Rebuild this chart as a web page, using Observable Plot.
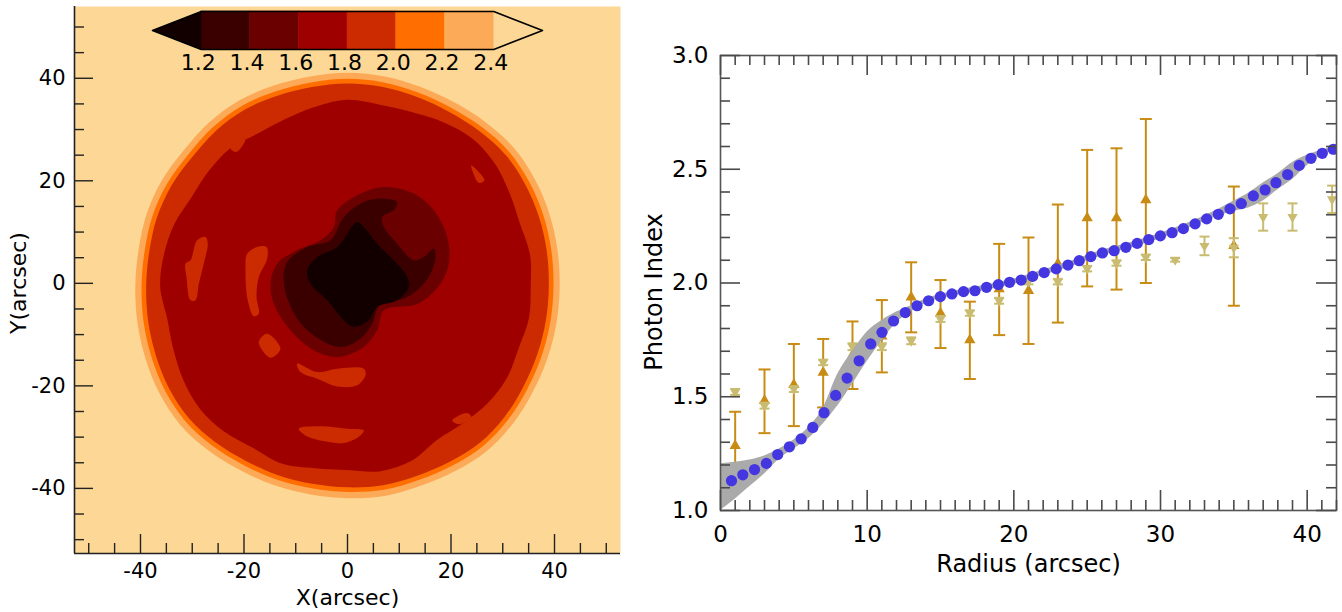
<!DOCTYPE html>
<html>
<head>
<meta charset="utf-8">
<script src="https://cdn.jsdelivr.net/npm/d3@7"></script>
<script src="https://cdn.jsdelivr.net/npm/@observablehq/plot@0.6"></script>
<style>
  body { margin: 0; background: #ffffff; }
  #wrap { position: relative; width: 1342px; height: 612px; font-family: "DejaVu Sans", sans-serif; color: #000; }
  #wrap svg { position: absolute; top: 0; }
</style>
</head>
<body>
<div id="wrap"></div>
<script>
// ================= DATA =================
// ---- left panel: photon-index map ----
const mapXDomain = [-52.75, 52.75];
const mapYDomain = [-52.7, 54.0];
const mapMajorTicks = [-40, -20, 0, 20, 40];
const mapMinorTicks = [-50, -45, -35, -30, -25, -15, -10, -5, 5, 10, 15, 25, 30, 35, 45, 50];

// colour-bar levels and colours
const levelEdges = [1.2, 1.4, 1.6, 1.8, 2.0, 2.2, 2.4];
const levelColors = ["#3a0000", "#6b0000", "#9e0000", "#cc2a00", "#ff6e00", "#fdaa58"];
const underColor = "#120000";
const overColor = "#fdd795";
const cbDomain = [1.0, 2.6];

// disk contours (polar: degrees, radius in arcsec) around the disk centre
const diskCenter = [0, -0.6];
const ringAngles = [0,10,20,30,40,50,60,70,80,90,100,110,120,130,140,150,160,170,180,190,200,210,220,230,240,250,260,270,280,290,300,310,320,330,340,350];
const r24 = [41.0,41.2,41.5,41.8,42.0,41.7,41.4,41.4,41.6,41.7,41.6,41.7,41.9,41.7,41.3,41.4,41.3,41.0,41.0,41.2,41.5,41.9,42.1,41.8,41.4,41.3,41.2,41.3,41.5,41.4,41.6,41.9,41.7,41.3,41.1,41.0];
const r22 = [39.8,40.0,40.3,40.6,40.8,40.5,40.2,40.2,40.4,40.5,40.4,40.5,40.7,40.5,40.1,40.2,40.1,39.8,39.8,40.0,40.3,40.7,40.9,40.6,40.2,40.1,40.0,40.1,40.3,40.2,40.4,40.7,40.5,40.1,39.9,39.8];
const r20 = [38.9,39.1,39.4,39.7,39.9,39.6,39.3,39.3,39.5,39.6,39.5,39.6,39.8,39.6,39.2,39.3,39.2,38.9,38.9,39.1,39.4,39.8,40.0,39.7,39.3,39.2,39.1,39.2,39.4,39.3,39.5,39.8,39.6,39.2,39.0,38.9];
const r18 = [35.4,35.8,35.5,36.2,37.2,37.6,37.0,36.2,36.0,36.4,35.6,34.8,34.5,35.2,35.0,34.8,35.6,36.0,36.2,35.4,35.8,36.6,37.2,37.0,36.4,36.8,36.0,35.8,36.6,36.2,34.6,34.8,35.4,35.6,35.2,35.6];

// central low-index region (1.6, 1.4, 1.2 contours), [x, y] arcsec
const contour16 = [[-1.99,14.24],[3.16,17.82],[7.67,18.80],[12.82,17.50],[16.68,14.24],[19.26,9.04],[19.58,3.84],[17.97,-0.07],[14.74,-3.32],[12.82,-4.29],[7.02,-5.27],[5.73,-9.17],[3.16,-12.42],[-1.99,-14.38],[-6.51,-13.07],[-11.01,-9.17],[-14.24,-3.97],[-14.88,-0.07],[-13.59,3.84],[-9.73,6.44],[-5.22,8.39],[-2.64,10.99]];
const contour14 = [[-12.30,-0.07],[-11.66,4.16],[-7.79,7.09],[-3.29,8.39],[-0.71,12.94],[3.16,15.87],[7.02,16.52],[9.60,15.87],[8.95,14.24],[6.70,12.94],[7.02,10.99],[9.60,7.74],[12.82,4.49],[14.74,5.14],[16.68,6.77],[17.00,5.14],[16.04,1.89],[13.47,-1.37],[10.88,-2.99],[6.38,-3.97],[4.77,-7.87],[2.51,-10.80],[-1.35,-12.42],[-5.54,-10.80],[-9.73,-6.89]];
const contour12 = [[-7.79,2.54],[-5.86,5.14],[-1.99,7.09],[1.87,11.96],[3.16,10.99],[5.73,7.74],[8.95,4.49],[11.54,1.24],[11.85,-0.72],[9.60,-3.32],[5.73,-4.62],[4.12,-7.22],[1.22,-8.52],[-0.71,-7.22],[-3.92,-3.32],[-7.15,-0.07]];

// isolated 1.8-2.0 patches inside the disk
const patchA = [[-30.34,4.49],[-29.05,8.39],[-27.44,9.04],[-27.0,7.74],[-27.77,3.84],[-28.73,-0.07],[-29.37,-3.32],[-30.34,-3.32],[-31.11,1.24],[-31.30,3.84]];
const patchB = [[-19.38,5.79],[-17.45,7.09],[-15.65,7.09],[-15.52,4.81],[-17.14,1.24],[-17.58,-2.67],[-17.14,-5.92],[-18.11,-6.44],[-19.27,-3.32],[-19.71,2.54]];
const patchC = [[-17.14,-11.45],[-15.52,-9.82],[-12.95,-12.75],[-14.88,-14.50]];
const patchD = [[-9.73,-15.67],[-5.86,-17.30],[-1.99,-16.65],[3.16,-16.65],[3.48,-17.95],[1.87,-19.90],[-1.99,-20.10],[-5.86,-18.60],[-9.08,-17.30]];
const patchE = [[-9.41,-28.35],[-5.22,-27.90],[-0.06,-28.35],[3.16,-28.68],[2.51,-29.66],[-0.71,-31.16],[-4.58,-30.77],[-8.12,-29.66]];
const patchF = [[-22.61,26.28],[-20.68,28.88],[-19.71,28.23],[-21.45,25.62]];
const patchG = [[23.90,23.02],[26.47,20.10],[25.38,19.57],[24.10,22.05]];
const patchH = [[20.23,-26.73],[23.13,-25.30],[23.90,-26.09],[21.51,-27.51]];

// ---- right panel: radial profile ----
const profXDomain = [0, 42];
const profYDomain = [1.0, 3.0];
const profXMajor = [0, 10, 20, 30, 40];
const profXMinor = [1,2,3,4,5,6,7,8,9,11,12,13,14,15,16,17,18,19,21,22,23,24,25,26,27,28,29,31,32,33,34,35,36,37,38,39,41,42];
const profYMajor = [1.0, 1.5, 2.0, 2.5, 3.0];
const profYMinor = [1.1,1.2,1.3,1.4,1.6,1.7,1.8,1.9,2.1,2.2,2.3,2.4,2.6,2.7,2.8,2.9];

// model curve (blue dots)
const modelR = [0.75,1.52,2.32,3.13,3.90,4.70,5.50,6.29,7.06,7.85,8.63,9.45,10.24,11.01,11.80,12.60,13.40,14.19,14.99,15.78,16.57,17.35,18.14,18.94,19.71,20.50,21.28,22.07,22.89,23.69,24.46,25.25,26.04,26.84,27.64,28.41,29.20,29.99,30.79,31.56,32.36,33.15,33.94,34.74,35.51,36.33,37.13,37.87,38.67,39.46,40.26,41.03,41.78];
const modelG = [1.131,1.157,1.180,1.207,1.246,1.280,1.315,1.365,1.430,1.506,1.582,1.658,1.732,1.783,1.833,1.870,1.900,1.922,1.940,1.952,1.962,1.966,1.981,1.993,2.003,2.013,2.029,2.046,2.062,2.079,2.098,2.116,2.132,2.142,2.157,2.174,2.191,2.207,2.221,2.239,2.260,2.282,2.302,2.326,2.349,2.383,2.409,2.441,2.477,2.517,2.548,2.570,2.588];

// model uncertainty band (grey)
const bandR  = [0,1,2,3,4,5,6,7,8,9,10,11,12,13,14,16,18,20,22,24,26,28,30,32,33,34,35,36,37,38,39,40,41,42];
const bandHi = [1.205,1.212,1.222,1.24,1.27,1.31,1.365,1.45,1.60,1.70,1.785,1.835,1.872,1.90,1.93,1.965,1.99,2.018,2.057,2.098,2.144,2.178,2.219,2.267,2.295,2.325,2.36,2.395,2.44,2.48,2.53,2.562,2.585,2.60];
const bandLo = [1.00,1.05,1.105,1.16,1.225,1.27,1.315,1.38,1.46,1.555,1.655,1.745,1.825,1.875,1.91,1.945,1.966,1.994,2.033,2.074,2.12,2.154,2.195,2.243,2.27,2.295,2.315,2.33,2.36,2.41,2.455,2.515,2.56,2.58];

// observed (gold, up triangles)
const obsR  = [1,3,5,7,9,11,13,15,17,19,21,23,25,27,29,35];
const obsG  = [1.285,1.483,1.553,1.607,1.683,1.766,1.937,1.867,1.749,1.974,1.966,2.085,2.286,2.286,2.365,2.164];
const obsLo = [1.136,1.340,1.371,1.453,1.534,1.607,1.783,1.714,1.578,1.771,1.732,1.826,1.985,1.971,2.000,1.900];
const obsHi = [1.434,1.620,1.732,1.754,1.831,1.925,2.091,2.013,1.918,2.172,2.200,2.345,2.585,2.592,2.721,2.424];

// second set (pale olive, down triangles)
const simR   = [1,3,5,7,9,11,13,15,17,19,21,23,25,27,29,31,33,35,37,39,41.7];
const simG   = [1.521,1.461,1.534,1.651,1.720,1.720,1.746,1.842,1.868,1.922,2.006,2.006,2.063,2.088,2.113,2.102,2.163,2.155,2.290,2.290,2.368];
const simErr = [0.013,0.013,0.013,0.012,0.015,0.015,0.015,0.013,0.012,0.013,0.012,0.012,0.012,0.012,0.012,0.008,0.041,0.042,0.060,0.060,0.060];

// ================= BUILD =================
const FONT = "DejaVu Sans";
const H = 612;
const wrap = document.getElementById("wrap");

const ring = (radii) => ringAngles.map((a, i) => ({
  x: diskCenter[0] + radii[i] * Math.cos(a * Math.PI / 180),
  y: diskCenter[1] + radii[i] * Math.sin(a * Math.PI / 180)
}));
const poly = (pts, fill, curve = "catmull-rom-closed") =>
  Plot.line(pts, {x: d => d[0], y: d => d[1], fill, stroke: "none", curve});
const ringMark = (radii, fill) =>
  Plot.line(ring(radii), {x: "x", y: "y", fill, stroke: "none", curve: "catmull-rom-closed"});

// ---- left panel ----
const L = {w: 640, ml: 74, mr: 20, mt: 6, mb: 59};
const lpw = L.w - L.ml - L.mr;
const lph = H - L.mt - L.mb;
const axisInk = "#222";

const leftPlot = Plot.plot({
  width: L.w, height: H,
  marginLeft: L.ml, marginRight: L.mr, marginTop: L.mt, marginBottom: L.mb,
  x: {domain: mapXDomain},
  y: {domain: mapYDomain},
  style: {fontFamily: FONT, background: "transparent", color: "#000", overflow: "visible"},
  marks: [
    Plot.frame({fill: overColor, stroke: "none"}),
    ringMark(r24, levelColors[5]),
    ringMark(r22, levelColors[4]),
    ringMark(r20, levelColors[3]),
    ringMark(r18, levelColors[2]),
    ...[patchA, patchB, patchC, patchD, patchE, patchF, patchG, patchH].map(p => poly(p, levelColors[3])),
    poly(contour16, levelColors[1]),
    poly(contour14, levelColors[0]),
    poly(contour12, underColor),
    // inward ticks
    Plot.ruleX(mapMajorTicks, {x: d => d, insetTop: lph - 19, stroke: axisInk, strokeWidth: 1.4}),
    Plot.ruleX(mapMinorTicks, {x: d => d, insetTop: lph - 10, stroke: axisInk, strokeWidth: 1.4}),
    Plot.ruleY(mapMajorTicks, {y: d => d, insetRight: lpw - 19, stroke: axisInk, strokeWidth: 1.4}),
    Plot.ruleY(mapMinorTicks, {y: d => d, insetRight: lpw - 10, stroke: axisInk, strokeWidth: 1.4}),
    // axis lines (left & bottom)
    Plot.ruleX([mapXDomain[0]], {stroke: axisInk, strokeWidth: 1.6}),
    Plot.ruleY([mapYDomain[0]], {stroke: axisInk, strokeWidth: 1.6}),
    Plot.axisX({ticks: mapMajorTicks, tickSize: 0, tickPadding: 10, fontSize: 21, label: null, tickFormat: d => String(d)}),
    Plot.axisY({ticks: mapMajorTicks, tickSize: 0, tickPadding: 9, fontSize: 21, label: null, tickFormat: d => String(d)}),
    Plot.text(["X(arcsec)"], {text: d => d, frameAnchor: "bottom", lineAnchor: "top", dy: 36, fontSize: 22, fill: "#000"}),
    Plot.text(["Y(arcsec)"], {text: d => d, frameAnchor: "left", textAnchor: "middle", dx: -56, dy: 3, rotate: -90, fontSize: 22, fill: "#000"})
  ]
});
leftPlot.style.left = "0px";
wrap.appendChild(leftPlot);

// ---- colour bar ----
const cbSegments = levelColors.map((c, i) => ({lo: levelEdges[i], hi: levelEdges[i + 1], color: c}));
const loEdge = levelEdges[0], hiEdge = levelEdges[levelEdges.length - 1];
const underArrow = [{x: cbDomain[0], y: 0.5}, {x: loEdge, y: 1}, {x: loEdge, y: 0}];
const overArrow = [{x: cbDomain[1], y: 0.5}, {x: hiEdge, y: 1}, {x: hiEdge, y: 0}];
const cbOutline = [{x: cbDomain[0], y: 0.5}, {x: loEdge, y: 1}, {x: hiEdge, y: 1}, {x: cbDomain[1], y: 0.5}, {x: hiEdge, y: 0}, {x: loEdge, y: 0}];

const cbPlot = Plot.plot({
  width: 640, height: 80,
  marginLeft: 152, marginRight: 98, marginTop: 11, marginBottom: 31,
  x: {domain: cbDomain},
  y: {domain: [0, 1], axis: null},
  color: {type: "identity"},
  style: {fontFamily: FONT, background: "transparent", color: "#000", overflow: "visible"},
  marks: [
    Plot.rect(cbSegments, {x1: "lo", x2: "hi", y1: 0, y2: 1, fill: "color", stroke: "color", strokeWidth: 0.6}),
    Plot.line(underArrow, {x: "x", y: "y", fill: underColor, stroke: "none", curve: "linear-closed"}),
    Plot.line(overArrow, {x: "x", y: "y", fill: overColor, stroke: "none", curve: "linear-closed"}),
    Plot.line(cbOutline, {x: "x", y: "y", fill: "none", stroke: "#000", strokeWidth: 1.6, curve: "linear-closed"}),
    Plot.axisX({ticks: levelEdges, tickSize: 0, tickPadding: 5, fontSize: 22, dx: -3, label: null, tickFormat: d => d.toFixed(1)})
  ]
});
cbPlot.style.left = "0px";
cbPlot.style.pointerEvents = "none";
wrap.appendChild(cbPlot);

// ---- right panel ----
const R = {x0: 640, w: 702, ml: 80, mr: 6, mt: 55, mb: 102};
const rpw = R.w - R.ml - R.mr;
const rph = H - R.mt - R.mb;
const GOLD = "#c88c14";
const PALE = "#c9bc70";
const BLUE = "#4436e0";
const tickInk = "#4a4a4a";

const model = modelR.map((r, i) => ({r, g: modelG[i]}));
const band = bandR.map((r, i) => ({r, lo: bandLo[i], hi: bandHi[i]}));
const obs = obsR.map((r, i) => ({r, g: obsG[i], lo: obsLo[i], hi: obsHi[i]}));
const sim = simR.map((r, i) => ({r, g: simG[i], lo: simG[i] - simErr[i], hi: simG[i] + simErr[i]}));

const capSymbol = {draw(ctx, size) { const w = Math.sqrt(size / Math.PI); ctx.moveTo(-w, 0); ctx.lineTo(w, 0); }};
const triDown = {draw(ctx, size) {
  const y = -Math.sqrt(size / (Math.sqrt(3) * 3));
  ctx.moveTo(0, -y * 2); ctx.lineTo(-Math.sqrt(3) * y, y); ctx.lineTo(Math.sqrt(3) * y, y); ctx.closePath();
}};

const rightPlot = Plot.plot({
  width: R.w, height: H,
  marginLeft: R.ml, marginRight: R.mr, marginTop: R.mt, marginBottom: R.mb,
  x: {domain: profXDomain},
  y: {domain: profYDomain},
  style: {fontFamily: FONT, background: "transparent", color: "#000", overflow: "visible"},
  marks: [
    // gold observed points
    Plot.ruleX(obs, {x: "r", y1: "lo", y2: "hi", stroke: GOLD, strokeWidth: 2}),
    Plot.dot(obs, {x: "r", y: "lo", symbol: capSymbol, r: 6, stroke: GOLD, strokeWidth: 2}),
    Plot.dot(obs, {x: "r", y: "hi", symbol: capSymbol, r: 6, stroke: GOLD, strokeWidth: 2}),
    Plot.dot(obs, {x: "r", y: "g", symbol: "triangle", r: 4.2, fill: GOLD, stroke: "none"}),
    // pale points
    Plot.ruleX(sim, {x: "r", y1: "lo", y2: "hi", stroke: PALE, strokeWidth: 2, clip: true}),
    Plot.dot(sim, {x: "r", y: "lo", symbol: capSymbol, r: 5, stroke: PALE, strokeWidth: 2, clip: true}),
    Plot.dot(sim, {x: "r", y: "hi", symbol: capSymbol, r: 5, stroke: PALE, strokeWidth: 2, clip: true}),
    Plot.dot(sim, {x: "r", y: "g", symbol: triDown, r: 3.8, fill: PALE, stroke: "none", clip: true}),
    // model band and curve
    Plot.areaY(band, {x: "r", y1: "lo", y2: "hi", fill: "#aaaaaa", curve: "monotone-x"}),
    Plot.dot(model, {x: "r", y: "g", r: 5.6, fill: BLUE, stroke: "none", clip: true}),
    // frame & inward ticks on all sides
    Plot.frame({stroke: "#555", strokeWidth: 1.6}),
    Plot.ruleX(profXMajor, {x: d => d, insetTop: rph - 20, stroke: tickInk, strokeWidth: 1.6}),
    Plot.ruleX(profXMinor, {x: d => d, insetTop: rph - 10, stroke: tickInk, strokeWidth: 1.6}),
    Plot.ruleX(profXMajor, {x: d => d, insetBottom: rph - 20, stroke: tickInk, strokeWidth: 1.6}),
    Plot.ruleX(profXMinor, {x: d => d, insetBottom: rph - 10, stroke: tickInk, strokeWidth: 1.6}),
    Plot.ruleY(profYMajor, {y: d => d, insetRight: rpw - 20, stroke: tickInk, strokeWidth: 1.6}),
    Plot.ruleY(profYMinor, {y: d => d, insetRight: rpw - 10, stroke: tickInk, strokeWidth: 1.6}),
    Plot.ruleY(profYMajor, {y: d => d, insetLeft: rpw - 20, stroke: tickInk, strokeWidth: 1.6}),
    Plot.ruleY(profYMinor, {y: d => d, insetLeft: rpw - 10, stroke: tickInk, strokeWidth: 1.6}),
    Plot.axisX({ticks: profXMajor, tickSize: 0, tickPadding: 15, fontSize: 23, label: null, tickFormat: d => String(d)}),
    Plot.axisY({ticks: profYMajor, tickSize: 0, tickPadding: 12, fontSize: 23, label: null, tickFormat: d => d.toFixed(1)}),
    Plot.text(["Radius (arcsec)"], {text: d => d, frameAnchor: "bottom", lineAnchor: "top", dy: 44, fontSize: 24, fill: "#000"}),
    Plot.text(["Photon Index"], {text: d => d, frameAnchor: "left", textAnchor: "middle", dx: -66, dy: 9, rotate: -90, fontSize: 24, fill: "#000"})
  ]
});
rightPlot.style.left = R.x0 + "px";
wrap.appendChild(rightPlot);
</script>
</body>
</html>
